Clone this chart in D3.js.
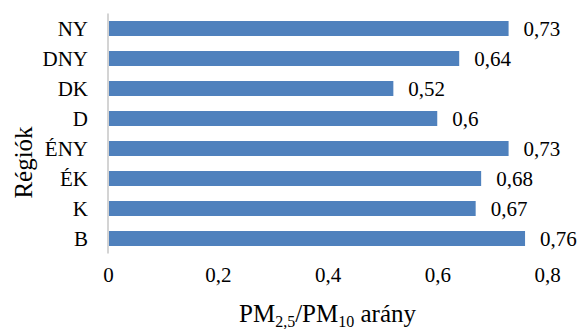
<!DOCTYPE html>
<html>
<head>
<meta charset="utf-8">
<script src="https://cdn.jsdelivr.net/npm/d3@7"></script>
<style>
  html, body { margin: 0; padding: 0; background: #fff; }
  svg { display: block; }
  svg text { font-family: "Liberation Serif", "Times New Roman", Times, serif; }
</style>
</head>
<body>
<svg id="chart" width="582" height="329"></svg>
<script>
// Regions, top to bottom as drawn
const regions = ["NY", "DNY", "DK", "D", "ÉNY", "ÉK", "K", "B"];
// PM2.5/PM10 ratio per region
const ratios = [0.73, 0.64, 0.52, 0.6, 0.73, 0.68, 0.67, 0.76];
// X axis ticks
const xTicks = [0, 0.2, 0.4, 0.6, 0.8];

const FONT = '"Liberation Serif", "Times New Roman", Times, serif';
const svg = d3.select("#chart");
const margin = { left: 108, right: 35, top: 13.5, bottom: 75.5 };
const W = 582, H = 329;

const x = d3.scaleLinear().domain([0, 0.8]).range([margin.left, W - margin.right]);
const y = d3.scaleBand().domain(regions).range([margin.top, H - margin.bottom]).paddingInner(0.5).paddingOuter(0.25);

const fmt = v => String(+v.toFixed(2)).replace(".", ",");
const rows = regions.map((r, i) => ({ r, v: ratios[i] }));

// Bars
svg.append("g").selectAll("rect")
  .data(rows)
  .join("rect")
  .attr("x", x(0))
  .attr("y", d => y(d.r))
  .attr("width", d => x(d.v) - x(0))
  .attr("height", y.bandwidth())
  .attr("fill", "#4F81BD");

// Value labels
svg.append("g").selectAll("text")
  .data(rows)
  .join("text")
  .attr("x", d => x(d.v) + 15)
  .attr("y", d => y(d.r) + y.bandwidth() / 2)
  .attr("dy", "0.35em")
  .style("font-family", FONT)
  .style("font-size", "21px")
  .attr("fill", "#000")
  .text(d => fmt(d.v));

// Category axis
const yAxis = svg.append("g")
  .attr("transform", `translate(${x(0)},0)`)
  .call(d3.axisLeft(y).tickSize(0).tickPadding(20))
  .attr("font-family", null).attr("font-size", null);
yAxis.select(".domain")
  .attr("d", `M0,${margin.top}V${H - margin.bottom}`)
  .attr("stroke", "#d4d4d4").attr("stroke-width", 2);
yAxis.selectAll("text")
  .style("font-family", FONT).style("font-size", "21px").attr("fill", "#000")
  .attr("dy", "0.35em");

// Value axis (labels only)
const xAxis = svg.append("g")
  .attr("transform", `translate(0,${H - margin.bottom})`)
  .call(d3.axisBottom(x).tickValues(xTicks).tickSize(0).tickPadding(14).tickFormat(fmt))
  .attr("font-family", null).attr("font-size", null);
xAxis.select(".domain").remove();
xAxis.selectAll("text")
  .style("font-family", FONT).style("font-size", "21px").attr("fill", "#000");

// Axis titles
svg.append("text")
  .attr("transform", `translate(32,162.5) rotate(-90)`)
  .attr("text-anchor", "middle")
  .style("font-family", FONT).style("font-size", "25px")
  .text("Régiók");

const xt = svg.append("text")
  .attr("x", (x(0) + x(0.8)) / 2)
  .attr("y", 322)
  .attr("text-anchor", "middle")
  .style("font-family", FONT).style("font-size", "25px");
xt.append("tspan").text("PM");
xt.append("tspan").style("font-size", "16px").attr("dy", 5).text("2,5");
xt.append("tspan").attr("dy", -5).text("/PM");
xt.append("tspan").style("font-size", "16px").attr("dy", 5).text("10");
xt.append("tspan").attr("dy", -5).text(" arány");
</script>
</body>
</html>
